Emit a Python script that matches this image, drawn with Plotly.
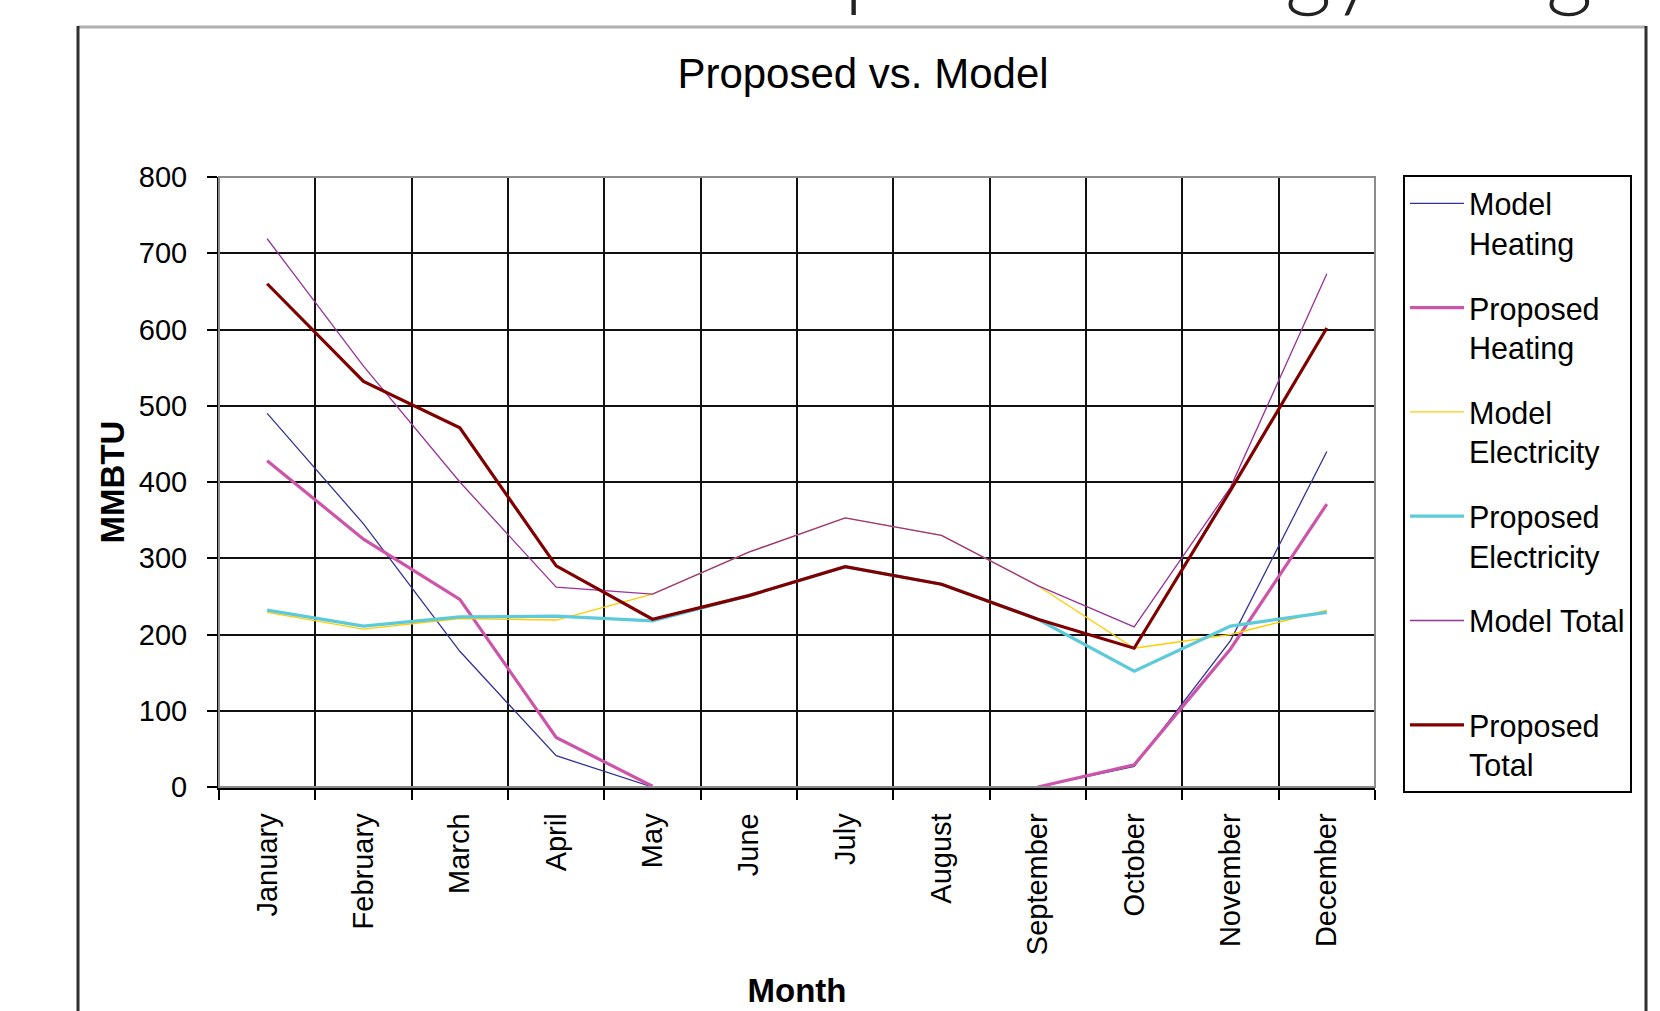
import plotly.graph_objects as go

# ---------------- data ----------------
months = ["January", "February", "March", "April", "May", "June", "July",
          "August", "September", "October", "November", "December"]
model_heating = [490, 345, 178, 41, 0, None, None, None, 0, 27, 192, 440]
proposed_heating = [428, 325, 246, 65, 1, None, None, None, 0, 29, 181, 371]
model_electricity = [229, 207, 221, 219, 253, 308, 353, 330, 264, 182, 200, 232]
proposed_electricity = [232, 211, 223, 224, 218, 251, 289, 266, 220, 152, 211, 229]
model_total = [719, 552, 400, 262, 253, 308, 353, 330, 264, 210, 393, 673]
proposed_total = [660, 532, 471, 290, 220, 251, 289, 266, 220, 182, 389, 602]

series_names = ["Model<br>Heating", "Proposed<br>Heating", "Model<br>Electricity",
                "Proposed<br>Electricity", "Model Total<br>\u00a0", "Proposed<br>Total"]
series_values = [model_heating, proposed_heating, model_electricity,
                 proposed_electricity, model_total, proposed_total]
series_colors = ["#333399", "#CC55AA", "#FFCC00", "#5CCAD8", "#993399", "#800000"]
series_widths = [1.3, 3.2, 1.3, 3.2, 1.3, 3.2]

y_ticks = [0, 100, 200, 300, 400, 500, 600, 700, 800]

# ---------------- layout geometry ----------------
FIG_W, FIG_H = 1660, 1011
ML, MR, MT, MB = 219, 285, 177, 224
PW = FIG_W - ML - MR
PH = FIG_H - MT - MB


def fx(px):
    return (px - ML) / PW


def fy(py):
    return (FIG_H - MB - py) / PH


FONT = "Liberation Sans, Arial, sans-serif"

fig = go.Figure()
for name, vals, col, w in zip(series_names, series_values, series_colors, series_widths):
    fig.add_trace(go.Scatter(
        x=months, y=vals, name=name, mode="lines",
        line=dict(color=col, width=w), connectgaps=False,
        legendgroup=name,
    ))

shapes = [
    # plot-area border (grey)
    dict(type="rect", xref="paper", yref="paper", x0=0, x1=1, y0=0, y1=1,
         line=dict(color="#8c8c8c", width=2), layer="above"),
    # chart-area frame
    dict(type="line", xref="paper", yref="paper", x0=fx(78), x1=fx(1646), y0=fy(27), y1=fy(27),
         line=dict(color="#b0b0b0", width=3)),
    dict(type="line", xref="paper", yref="paper", x0=fx(78), x1=fx(78), y0=fy(26), y1=fy(1015),
         line=dict(color="#303030", width=3)),
    dict(type="line", xref="paper", yref="paper", x0=fx(1646), x1=fx(1646), y0=fy(26), y1=fy(1015),
         line=dict(color="#303030", width=3)),
]

fig.update_layout(
    width=FIG_W, height=FIG_H,
    margin=dict(l=ML, r=MR, t=MT, b=MB, pad=0),
    paper_bgcolor="white", plot_bgcolor="white",
    font=dict(family=FONT, color="black", size=29),
    title=dict(text="Proposed vs. Model", font=dict(family=FONT, size=42, color="black"),
               xref="container", yref="container", x=863 / FIG_W, y=1 - 73 / FIG_H,
               xanchor="center", yanchor="middle"),
    showlegend=True,
    legend=dict(x=fx(1403), y=fy(175), xanchor="left", yanchor="top",
                bordercolor="black", borderwidth=2, bgcolor="white",
                font=dict(family=FONT, size=30.5, color="black"),
                valign="top", tracegroupgap=22, itemwidth=54, maxheight=800),
    shapes=shapes,
    annotations=[
        dict(text="Proposed Energy Usage", xref="paper", yref="paper",
             x=fx(710), y=fy(20), xanchor="left", yanchor="bottom", showarrow=False,
             font=dict(family="Lato, sans-serif", size=91, color="#222222", weight=300)),
    ],
)

fig.update_xaxes(
    type="category", tickson="boundaries", categoryorder="array", categoryarray=months,
    range=[-0.5, len(months) - 0.5],
    showgrid=True, gridcolor="#111111", gridwidth=1.6,
    showline=True, linecolor="black", linewidth=2.5,
    ticks="outside", ticklen=10, tickwidth=1.6, tickcolor="black",
    tickangle=-90, tickfont=dict(family=FONT, size=29, color="black"),
    ticklabelstandoff=12,
    title=dict(text="<b>Month</b>", font=dict(family=FONT, size=33, color="black"), standoff=25),
    automargin=False,
)
fig.update_yaxes(
    range=[0, 800], tickvals=y_ticks,
    showgrid=True, gridcolor="#111111", gridwidth=1.6,
    zeroline=False,
    showline=True, linecolor="black", linewidth=2,
    ticks="outside", ticklen=10, tickwidth=1.6, tickcolor="black",
    tickfont=dict(family=FONT, size=29, color="black"),
    ticklabelstandoff=14,
    title=dict(text="<b>MMBTU</b>", font=dict(family=FONT, size=33, color="black"), standoff=4),
    automargin=False,
)

fig.write_html("out.html", config={"displayModeBar": False},
               post_script="document.body.style.margin='0';document.body.style.overflow='hidden';")
